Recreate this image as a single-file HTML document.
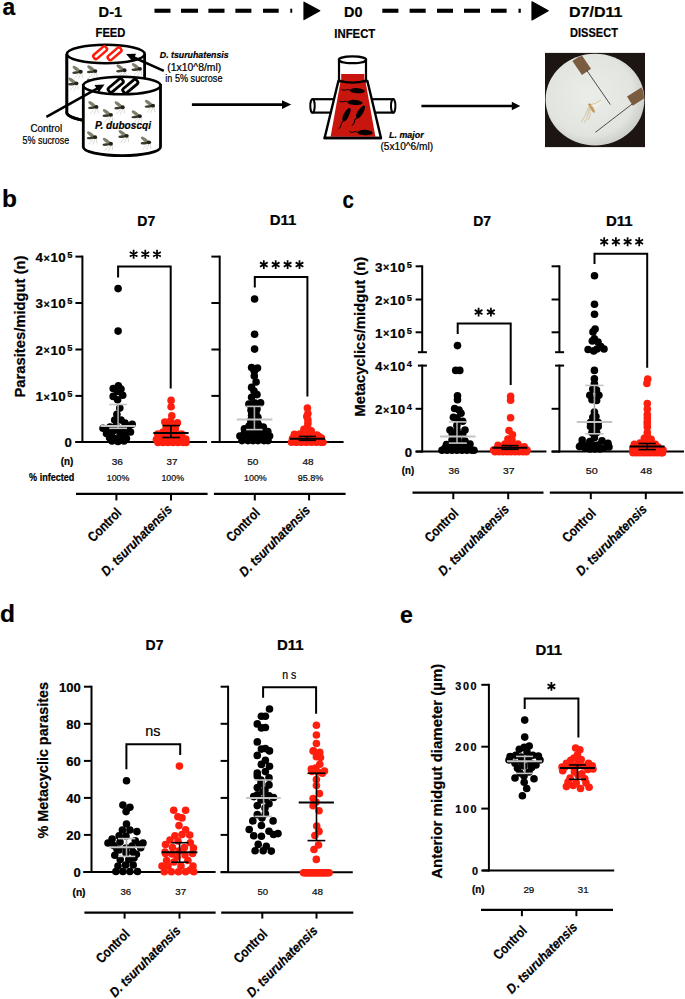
<!DOCTYPE html>
<html><head><meta charset="utf-8"><title>Figure</title><style>html,body{margin:0;padding:0;background:#fff;width:685px;height:999px;overflow:hidden}svg{display:block}text{font-family:"Liberation Sans",sans-serif;stroke:#000;stroke-width:0.22px}</style></head><body>
<svg width="685" height="999" viewBox="0 0 685 999">
<rect width="685" height="999" fill="#fff"/>
<text x="2.4" y="14.6" font-size="24.5" font-weight="bold" textLength="12.7" lengthAdjust="spacingAndGlyphs">a</text>
<text x="98.6" y="17" font-size="15" font-weight="bold" textLength="23.6" lengthAdjust="spacingAndGlyphs">D-1</text>
<text x="95.6" y="36.7" font-size="12.3" font-weight="bold" textLength="29.8" lengthAdjust="spacingAndGlyphs">FEED</text>
<text x="344" y="16.7" font-size="14.6" font-weight="bold" textLength="18.4" lengthAdjust="spacingAndGlyphs">D0</text>
<text x="334.3" y="37.9" font-size="12.5" font-weight="bold" textLength="41" lengthAdjust="spacingAndGlyphs">INFECT</text>
<text x="569" y="17.3" font-size="15.4" font-weight="bold" textLength="53.4" lengthAdjust="spacingAndGlyphs">D7/D11</text>
<text x="570.1" y="37.3" font-size="12.5" font-weight="bold" textLength="47.8" lengthAdjust="spacingAndGlyphs">DISSECT</text>
<rect x="154.5" y="8.7" width="16" height="4.1" fill="#000" />
<rect x="181" y="8.7" width="17" height="4.1" fill="#000" />
<rect x="208.4" y="8.7" width="16.1" height="4.1" fill="#000" />
<rect x="235.4" y="8.7" width="16" height="4.1" fill="#000" />
<rect x="263" y="8.7" width="15.7" height="4.1" fill="#000" />
<rect x="290.3" y="8.7" width="1.9" height="4.1" fill="#000" />
<path d="M304 2.2 L319.8 10.8 L304 19.6 Z" fill="#000" stroke="#000" stroke-width="1.2" stroke-linejoin="round"/>
<rect x="382.3" y="8.7" width="16.1" height="4.1" fill="#000" />
<rect x="409.6" y="8.7" width="16.1" height="4.1" fill="#000" />
<rect x="437" y="8.7" width="16" height="4.1" fill="#000" />
<rect x="464" y="8.7" width="16" height="4.1" fill="#000" />
<rect x="491" y="8.7" width="15.6" height="4.1" fill="#000" />
<rect x="518.5" y="8.7" width="2.3" height="4.1" fill="#000" />
<path d="M532 1.8 L548.2 10.8 L532 19.9 Z" fill="#000" stroke="#000" stroke-width="1.2" stroke-linejoin="round"/>
<path d="M66.9 54 L66.9 111.5 A39 9.5 0 0 0 84 120.3" fill="#fff" stroke="#000" stroke-width="2.8"/>
<rect x="66.9" y="54" width="77.6" height="58" fill="#fff"/>
<path d="M66.9 54 L66.9 111.5 A39 9.5 0 0 0 84 120.3" fill="none" stroke="#000" stroke-width="2.8"/>
<line x1="144.6" y1="54" x2="144.6" y2="80" stroke="#000" stroke-width="2.8"/>
<g transform="translate(77.7 71.4) scale(1.12)"><path d="M1.5 1.5 L-3 6.5 M2.8 1.6 L0.5 7 M3.8 1.2 L4.3 6" stroke="#c4c4bc" stroke-width="0.55" fill="none"/><ellipse cx="-1.2" cy="-2.2" rx="3.9" ry="1.55" transform="rotate(36 -1.2 -2.2)" fill="#7f806c"/><ellipse cx="-1.4" cy="1.0" rx="3.4" ry="1.15" transform="rotate(-6 -1.4 1)" fill="#3f3a2c"/><ellipse cx="2.6" cy="0.3" rx="1.9" ry="1.7" fill="#22211c"/></g>
<g transform="translate(92.3 70.7) scale(1.12)"><path d="M1.5 1.5 L-3 6.5 M2.8 1.6 L0.5 7 M3.8 1.2 L4.3 6" stroke="#c4c4bc" stroke-width="0.55" fill="none"/><ellipse cx="-1.2" cy="-2.2" rx="3.9" ry="1.55" transform="rotate(36 -1.2 -2.2)" fill="#7f806c"/><ellipse cx="-1.4" cy="1.0" rx="3.4" ry="1.15" transform="rotate(-6 -1.4 1)" fill="#3f3a2c"/><ellipse cx="2.6" cy="0.3" rx="1.9" ry="1.7" fill="#22211c"/></g>
<g transform="translate(121.5 69.9) scale(1.12)"><path d="M1.5 1.5 L-3 6.5 M2.8 1.6 L0.5 7 M3.8 1.2 L4.3 6" stroke="#c4c4bc" stroke-width="0.55" fill="none"/><ellipse cx="-1.2" cy="-2.2" rx="3.9" ry="1.55" transform="rotate(36 -1.2 -2.2)" fill="#7f806c"/><ellipse cx="-1.4" cy="1.0" rx="3.4" ry="1.15" transform="rotate(-6 -1.4 1)" fill="#3f3a2c"/><ellipse cx="2.6" cy="0.3" rx="1.9" ry="1.7" fill="#22211c"/></g>
<g transform="translate(136.9 68.5) scale(1.12)"><path d="M1.5 1.5 L-3 6.5 M2.8 1.6 L0.5 7 M3.8 1.2 L4.3 6" stroke="#c4c4bc" stroke-width="0.55" fill="none"/><ellipse cx="-1.2" cy="-2.2" rx="3.9" ry="1.55" transform="rotate(36 -1.2 -2.2)" fill="#7f806c"/><ellipse cx="-1.4" cy="1.0" rx="3.4" ry="1.15" transform="rotate(-6 -1.4 1)" fill="#3f3a2c"/><ellipse cx="2.6" cy="0.3" rx="1.9" ry="1.7" fill="#22211c"/></g>
<g transform="translate(73.4 83) scale(1.12)"><path d="M1.5 1.5 L-3 6.5 M2.8 1.6 L0.5 7 M3.8 1.2 L4.3 6" stroke="#c4c4bc" stroke-width="0.55" fill="none"/><ellipse cx="-1.2" cy="-2.2" rx="3.9" ry="1.55" transform="rotate(36 -1.2 -2.2)" fill="#7f806c"/><ellipse cx="-1.4" cy="1.0" rx="3.4" ry="1.15" transform="rotate(-6 -1.4 1)" fill="#3f3a2c"/><ellipse cx="2.6" cy="0.3" rx="1.9" ry="1.7" fill="#22211c"/></g>
<g transform="translate(92 84) scale(1.12)"><path d="M1.5 1.5 L-3 6.5 M2.8 1.6 L0.5 7 M3.8 1.2 L4.3 6" stroke="#c4c4bc" stroke-width="0.55" fill="none"/><ellipse cx="-1.2" cy="-2.2" rx="3.9" ry="1.55" transform="rotate(36 -1.2 -2.2)" fill="#7f806c"/><ellipse cx="-1.4" cy="1.0" rx="3.4" ry="1.15" transform="rotate(-6 -1.4 1)" fill="#3f3a2c"/><ellipse cx="2.6" cy="0.3" rx="1.9" ry="1.7" fill="#22211c"/></g>
<ellipse cx="105.8" cy="54" rx="38.9" ry="9.2" fill="#fff" stroke="#000" stroke-width="2.6"/>
<rect x="92.1" y="50.2" width="16" height="5" rx="1.92" fill="#fff" stroke="#ff1a0a" stroke-width="2.5" transform="rotate(-41 100.1 52.7)"/>
<rect x="106.6" y="51.3" width="16" height="5" rx="1.92" fill="#fff" stroke="#ff1a0a" stroke-width="2.5" transform="rotate(-41 114.6 53.8)"/>
<path d="M83.3 85.5 L83.3 147 A38.6 8.6 0 0 0 160.5 147 L160.5 85.5 Z" fill="#fff" stroke="#000" stroke-width="2.8"/>
<g transform="translate(93.4 106.6) scale(1.12)"><path d="M1.5 1.5 L-3 6.5 M2.8 1.6 L0.5 7 M3.8 1.2 L4.3 6" stroke="#c4c4bc" stroke-width="0.55" fill="none"/><ellipse cx="-1.2" cy="-2.2" rx="3.9" ry="1.55" transform="rotate(36 -1.2 -2.2)" fill="#7f806c"/><ellipse cx="-1.4" cy="1.0" rx="3.4" ry="1.15" transform="rotate(-6 -1.4 1)" fill="#3f3a2c"/><ellipse cx="2.6" cy="0.3" rx="1.9" ry="1.7" fill="#22211c"/></g>
<g transform="translate(107.9 114.5) scale(1.12)"><path d="M1.5 1.5 L-3 6.5 M2.8 1.6 L0.5 7 M3.8 1.2 L4.3 6" stroke="#c4c4bc" stroke-width="0.55" fill="none"/><ellipse cx="-1.2" cy="-2.2" rx="3.9" ry="1.55" transform="rotate(36 -1.2 -2.2)" fill="#7f806c"/><ellipse cx="-1.4" cy="1.0" rx="3.4" ry="1.15" transform="rotate(-6 -1.4 1)" fill="#3f3a2c"/><ellipse cx="2.6" cy="0.3" rx="1.9" ry="1.7" fill="#22211c"/></g>
<g transform="translate(119.7 106.9) scale(1.12)"><path d="M1.5 1.5 L-3 6.5 M2.8 1.6 L0.5 7 M3.8 1.2 L4.3 6" stroke="#c4c4bc" stroke-width="0.55" fill="none"/><ellipse cx="-1.2" cy="-2.2" rx="3.9" ry="1.55" transform="rotate(36 -1.2 -2.2)" fill="#7f806c"/><ellipse cx="-1.4" cy="1.0" rx="3.4" ry="1.15" transform="rotate(-6 -1.4 1)" fill="#3f3a2c"/><ellipse cx="2.6" cy="0.3" rx="1.9" ry="1.7" fill="#22211c"/></g>
<g transform="translate(136.8 115.8) scale(1.12)"><path d="M1.5 1.5 L-3 6.5 M2.8 1.6 L0.5 7 M3.8 1.2 L4.3 6" stroke="#c4c4bc" stroke-width="0.55" fill="none"/><ellipse cx="-1.2" cy="-2.2" rx="3.9" ry="1.55" transform="rotate(36 -1.2 -2.2)" fill="#7f806c"/><ellipse cx="-1.4" cy="1.0" rx="3.4" ry="1.15" transform="rotate(-6 -1.4 1)" fill="#3f3a2c"/><ellipse cx="2.6" cy="0.3" rx="1.9" ry="1.7" fill="#22211c"/></g>
<g transform="translate(150 105.3) scale(1.12)"><path d="M1.5 1.5 L-3 6.5 M2.8 1.6 L0.5 7 M3.8 1.2 L4.3 6" stroke="#c4c4bc" stroke-width="0.55" fill="none"/><ellipse cx="-1.2" cy="-2.2" rx="3.9" ry="1.55" transform="rotate(36 -1.2 -2.2)" fill="#7f806c"/><ellipse cx="-1.4" cy="1.0" rx="3.4" ry="1.15" transform="rotate(-6 -1.4 1)" fill="#3f3a2c"/><ellipse cx="2.6" cy="0.3" rx="1.9" ry="1.7" fill="#22211c"/></g>
<g transform="translate(92.1 136.8) scale(1.12)"><path d="M1.5 1.5 L-3 6.5 M2.8 1.6 L0.5 7 M3.8 1.2 L4.3 6" stroke="#c4c4bc" stroke-width="0.55" fill="none"/><ellipse cx="-1.2" cy="-2.2" rx="3.9" ry="1.55" transform="rotate(36 -1.2 -2.2)" fill="#7f806c"/><ellipse cx="-1.4" cy="1.0" rx="3.4" ry="1.15" transform="rotate(-6 -1.4 1)" fill="#3f3a2c"/><ellipse cx="2.6" cy="0.3" rx="1.9" ry="1.7" fill="#22211c"/></g>
<g transform="translate(107.9 143.4) scale(1.12)"><path d="M1.5 1.5 L-3 6.5 M2.8 1.6 L0.5 7 M3.8 1.2 L4.3 6" stroke="#c4c4bc" stroke-width="0.55" fill="none"/><ellipse cx="-1.2" cy="-2.2" rx="3.9" ry="1.55" transform="rotate(36 -1.2 -2.2)" fill="#7f806c"/><ellipse cx="-1.4" cy="1.0" rx="3.4" ry="1.15" transform="rotate(-6 -1.4 1)" fill="#3f3a2c"/><ellipse cx="2.6" cy="0.3" rx="1.9" ry="1.7" fill="#22211c"/></g>
<g transform="translate(123.7 135.5) scale(1.12)"><path d="M1.5 1.5 L-3 6.5 M2.8 1.6 L0.5 7 M3.8 1.2 L4.3 6" stroke="#c4c4bc" stroke-width="0.55" fill="none"/><ellipse cx="-1.2" cy="-2.2" rx="3.9" ry="1.55" transform="rotate(36 -1.2 -2.2)" fill="#7f806c"/><ellipse cx="-1.4" cy="1.0" rx="3.4" ry="1.15" transform="rotate(-6 -1.4 1)" fill="#3f3a2c"/><ellipse cx="2.6" cy="0.3" rx="1.9" ry="1.7" fill="#22211c"/></g>
<g transform="translate(146 142) scale(1.12)"><path d="M1.5 1.5 L-3 6.5 M2.8 1.6 L0.5 7 M3.8 1.2 L4.3 6" stroke="#c4c4bc" stroke-width="0.55" fill="none"/><ellipse cx="-1.2" cy="-2.2" rx="3.9" ry="1.55" transform="rotate(36 -1.2 -2.2)" fill="#7f806c"/><ellipse cx="-1.4" cy="1.0" rx="3.4" ry="1.15" transform="rotate(-6 -1.4 1)" fill="#3f3a2c"/><ellipse cx="2.6" cy="0.3" rx="1.9" ry="1.7" fill="#22211c"/></g>
<ellipse cx="121.9" cy="85.5" rx="38.6" ry="8.7" fill="#fff" stroke="#000" stroke-width="2.6"/>
<rect x="106.95" y="82.8" width="17.5" height="5.4" rx="2.08" fill="#f4f4ee" stroke="#000" stroke-width="2.8" transform="rotate(-40 115.7 85.5)"/>
<rect x="121.55" y="83.6" width="17.5" height="5.4" rx="2.08" fill="#f4f4ee" stroke="#000" stroke-width="2.8" transform="rotate(-40 130.3 86.3)"/>
<text x="95" y="128.7" font-size="11.2" font-weight="bold" font-style="italic" textLength="56" lengthAdjust="spacingAndGlyphs">P. duboscqi</text>
<line x1="46.4" y1="116.9" x2="97.52" y2="88.31" stroke="#000" stroke-width="2.6" stroke-linecap="butt"/>
<path d="M104.5 84.4L98.72 92.5L94.57 85.08Z" fill="#000"/>
<line x1="163.8" y1="70.9" x2="133.39" y2="57.19" stroke="#000" stroke-width="2.6" stroke-linecap="butt"/>
<path d="M126.1 53.9L136.05 53.73L132.56 61.47Z" fill="#000"/>
<text x="30.4" y="131.8" font-size="10.2" textLength="31.8" lengthAdjust="spacingAndGlyphs" stroke="#000" stroke-width="0.3">Control</text>
<text x="22.6" y="144" font-size="10.2" textLength="46.6" lengthAdjust="spacingAndGlyphs" stroke="#000" stroke-width="0.3">5% sucrose</text>
<text x="159.8" y="58.1" font-size="9.2" font-weight="bold" font-style="italic" textLength="68.8" lengthAdjust="spacingAndGlyphs">D. tsuruhatensis</text>
<text x="167.3" y="70.6" font-size="10" textLength="53.9" lengthAdjust="spacingAndGlyphs" stroke="#000" stroke-width="0.3">(1x10^8/ml)</text>
<text x="165.3" y="82.2" font-size="10" textLength="57.2" lengthAdjust="spacingAndGlyphs" stroke="#000" stroke-width="0.3">in 5% sucrose</text>
<line x1="191.9" y1="104.6" x2="283" y2="104.6" stroke="#000" stroke-width="2.6" stroke-linecap="butt"/>
<path d="M291.2 104.6L282 109L282 100.2Z" fill="#000"/>
<line x1="421.4" y1="106" x2="512.8" y2="106" stroke="#000" stroke-width="2.6" stroke-linecap="butt"/>
<path d="M520.3 106L511.8 110.3L511.8 101.7Z" fill="#000"/>
<rect x="312.5" y="99.2" width="23.5" height="13.4" fill="#fff" stroke="#000" stroke-width="2.2"/>
<ellipse cx="312.5" cy="105.9" rx="2.2" ry="6.7" fill="#fff" stroke="#000" stroke-width="2"/>
<rect x="370" y="99.2" width="23.2" height="13.4" fill="#fff" stroke="#000" stroke-width="2.2"/>
<ellipse cx="393.2" cy="105.9" rx="2.2" ry="6.7" fill="#fff" stroke="#000" stroke-width="2"/>
<path d="M338.4 81 L367.4 81 L381 138 L324.6 138 Z" fill="#fff" stroke="#000" stroke-width="2.4" stroke-linejoin="round"/>
<path d="M340.4 82 L365.6 82 L375.4 136.8 L330.6 136.8 Z" fill="#c8160e"/>
<rect x="339" y="59.8" width="27" height="21.5" fill="#fff" stroke="#000" stroke-width="2.2"/>
<path d="M341.2 74 L364.4 74 L364.4 80.5 Q352.8 83.5 341.2 80.5 Z" fill="#c8160e"/>
<path d="M339 80.5 Q352.5 84.8 366 80.5" fill="none" stroke="#000" stroke-width="2.2"/>
<ellipse cx="352.5" cy="59.8" rx="13.6" ry="3.4" fill="#fff" stroke="#000" stroke-width="2.2"/>
<line x1="323.6" y1="138" x2="382" y2="138" stroke="#000" stroke-width="2.4" stroke-linecap="butt"/>
<g transform="translate(356.5 90.8) rotate(4)"><path d="M-6 0 Q-9 -1.5 -11 0 Q-13 1 -15 -0.5" stroke="#000" stroke-width="0.9" fill="none"/><path d="M-6.5 0.2 C-6 -3.2 2 -3.8 7.5 -1.4 C8.8 -0.5 8.4 1 6.6 1.5 C2 3 -6 3 -6.5 0.2Z" fill="#000"/></g>
<g transform="translate(354.2 102.5) rotate(4)"><path d="M-6 0 Q-9 -1.5 -11 0 Q-13 1 -15 -0.5" stroke="#000" stroke-width="0.9" fill="none"/><path d="M-6.5 0.2 C-6 -3.2 2 -3.8 7.5 -1.4 C8.8 -0.5 8.4 1 6.6 1.5 C2 3 -6 3 -6.5 0.2Z" fill="#000"/></g>
<g transform="translate(346.2 115.6) rotate(-62)"><path d="M-6 0 Q-9 -1.5 -11 0 Q-13 1 -15 -0.5" stroke="#000" stroke-width="0.9" fill="none"/><path d="M-6.5 0.2 C-6 -3.2 2 -3.8 7.5 -1.4 C8.8 -0.5 8.4 1 6.6 1.5 C2 3 -6 3 -6.5 0.2Z" fill="#000"/></g>
<g transform="translate(360.2 112.8) rotate(-58)"><path d="M-6 0 Q-9 -1.5 -11 0 Q-13 1 -15 -0.5" stroke="#000" stroke-width="0.9" fill="none"/><path d="M-6.5 0.2 C-6 -3.2 2 -3.8 7.5 -1.4 C8.8 -0.5 8.4 1 6.6 1.5 C2 3 -6 3 -6.5 0.2Z" fill="#000"/></g>
<g transform="translate(364.3 132.7) rotate(3)"><path d="M-6 0 Q-9 -1.5 -11 0 Q-13 1 -15 -0.5" stroke="#000" stroke-width="0.9" fill="none"/><path d="M-6.5 0.2 C-6 -3.2 2 -3.8 7.5 -1.4 C8.8 -0.5 8.4 1 6.6 1.5 C2 3 -6 3 -6.5 0.2Z" fill="#000"/></g>
<text x="389" y="138.1" font-size="9.8" font-weight="bold" font-style="italic" textLength="34.6" lengthAdjust="spacingAndGlyphs">L. major</text>
<text x="380.5" y="150.3" font-size="10.2" textLength="52.6" lengthAdjust="spacingAndGlyphs" stroke="#000" stroke-width="0.3">(5x10^6/ml)</text>
<defs><radialGradient id="pg" cx="0.45" cy="0.45" r="0.55"><stop offset="0" stop-color="#eaede8"/><stop offset="0.8" stop-color="#e2e5df"/><stop offset="1" stop-color="#cfd2cc"/></radialGradient><clipPath id="pc"><ellipse cx="595" cy="99.6" rx="49" ry="45.4"/></clipPath></defs>
<rect x="545" y="52.9" width="100" height="94.2" fill="#1c1512"/>
<ellipse cx="595" cy="99.6" rx="49.4" ry="45.8" fill="url(#pg)"/>
<g clip-path="url(#pc)"><rect x="573.2" y="59.3" width="17" height="11" fill="#7a5c40" transform="rotate(55.7 581.7 64.8)"/><rect x="628.5" y="91.2" width="17" height="10.7" fill="#7a5c40" transform="rotate(-32.6 637 96.5)"/></g>
<line x1="586.5" y1="70" x2="610.3" y2="104.5" stroke="#3a3a3a" stroke-width="0.9" stroke-linecap="butt"/>
<line x1="632.1" y1="104.1" x2="595.4" y2="132.3" stroke="#3a3a3a" stroke-width="0.9" stroke-linecap="butt"/>
<ellipse cx="596" cy="104" rx="6" ry="2.6" fill="#f2f0e4" transform="rotate(-28 596 104)" opacity="0.9"/>
<g stroke="#cfb688" stroke-width="0.7" fill="none"><path d="M589 106 L584.5 117 L581 122"/><path d="M589.5 106.5 L587 118 L584 123"/><path d="M590 107 L590 116 L588 120"/><path d="M590 105 L596 103 L601 100"/></g>
<ellipse cx="592.3" cy="109" rx="1.5" ry="4.2" fill="#c29a62" transform="rotate(-30 592.3 109)"/>
<circle cx="589.6" cy="104.8" r="1.3" fill="#b88e58"/>
<text x="1.9" y="207.2" font-size="24.5" font-weight="bold">b</text>
<text x="24.6" y="326.5" font-size="15.2" font-weight="bold" text-anchor="middle" textLength="142" lengthAdjust="spacingAndGlyphs" transform="rotate(-90 24.6 326.5)">Parasites/midgut (n)</text>
<text x="137.3" y="225.8" font-size="14.2" font-weight="bold" textLength="17.9" lengthAdjust="spacingAndGlyphs">D7</text>
<text x="269.7" y="225.4" font-size="14.2" font-weight="bold" textLength="26.6" lengthAdjust="spacingAndGlyphs">D11</text>
<line x1="82.4" y1="255.61" x2="82.4" y2="443" stroke="#000" stroke-width="2" stroke-linecap="butt"/>
<line x1="75.4" y1="256.6" x2="82.4" y2="256.6" stroke="#000" stroke-width="2" stroke-linecap="butt"/>
<line x1="75.4" y1="303" x2="82.4" y2="303" stroke="#000" stroke-width="2" stroke-linecap="butt"/>
<line x1="75.4" y1="349.5" x2="82.4" y2="349.5" stroke="#000" stroke-width="2" stroke-linecap="butt"/>
<line x1="75.4" y1="395.9" x2="82.4" y2="395.9" stroke="#000" stroke-width="2" stroke-linecap="butt"/>
<line x1="75.4" y1="442" x2="82.4" y2="442" stroke="#000" stroke-width="2" stroke-linecap="butt"/>
<line x1="75.4" y1="442" x2="207" y2="442" stroke="#000" stroke-width="2" stroke-linecap="butt"/>
<g font-weight="bold" text-anchor="middle" font-size="13.4"><text x="39.3" y="261.8">4</text><text x="46.7" y="261.5" font-size="10.72">×</text><text x="54.2" y="261.8">1</text><text x="62.1" y="261.8">0</text><text x="69.8" y="257.7" font-size="9.25">5</text></g>
<g font-weight="bold" text-anchor="middle" font-size="13.4"><text x="39.3" y="308.2">3</text><text x="46.7" y="307.9" font-size="10.72">×</text><text x="54.2" y="308.2">1</text><text x="62.1" y="308.2">0</text><text x="69.8" y="304.1" font-size="9.25">5</text></g>
<g font-weight="bold" text-anchor="middle" font-size="13.4"><text x="39.3" y="354.7">2</text><text x="46.7" y="354.4" font-size="10.72">×</text><text x="54.2" y="354.7">1</text><text x="62.1" y="354.7">0</text><text x="69.8" y="350.6" font-size="9.25">5</text></g>
<g font-weight="bold" text-anchor="middle" font-size="13.4"><text x="39.3" y="401.1">1</text><text x="46.7" y="400.8" font-size="10.72">×</text><text x="54.2" y="401.1">1</text><text x="62.1" y="401.1">0</text><text x="69.8" y="397" font-size="9.25">5</text></g>
<text x="71.8" y="447.3" font-size="13.2" font-weight="bold" text-anchor="end">0</text>
<line x1="219.7" y1="255.61" x2="219.7" y2="443" stroke="#000" stroke-width="2" stroke-linecap="butt"/>
<line x1="211.4" y1="256.6" x2="219.7" y2="256.6" stroke="#000" stroke-width="2" stroke-linecap="butt"/>
<line x1="211.4" y1="303" x2="219.7" y2="303" stroke="#000" stroke-width="2" stroke-linecap="butt"/>
<line x1="211.4" y1="349.5" x2="219.7" y2="349.5" stroke="#000" stroke-width="2" stroke-linecap="butt"/>
<line x1="211.4" y1="395.9" x2="219.7" y2="395.9" stroke="#000" stroke-width="2" stroke-linecap="butt"/>
<line x1="211.4" y1="442" x2="219.7" y2="442" stroke="#000" stroke-width="2" stroke-linecap="butt"/>
<line x1="211.4" y1="442" x2="343.6" y2="442" stroke="#000" stroke-width="2" stroke-linecap="butt"/>
<g fill="#000"><circle cx="117.5" cy="391.5" r="3.8"/><circle cx="118.1" cy="331.1" r="3.8"/><circle cx="118.4" cy="385.8" r="3.8"/><circle cx="113.2" cy="388.5" r="3.8"/><circle cx="121" cy="389" r="3.8"/><circle cx="113.2" cy="396.4" r="3.8"/><circle cx="122.7" cy="395.3" r="3.8"/><circle cx="117.6" cy="399.7" r="3.8"/><circle cx="119.8" cy="408.1" r="3.8"/><circle cx="116.9" cy="414.3" r="3.8"/><circle cx="114.7" cy="420.1" r="3.8"/><circle cx="121" cy="420" r="3.8"/><circle cx="132.2" cy="424.2" r="3.8"/><circle cx="125" cy="423" r="3.8"/><circle cx="103" cy="428.2" r="3.8"/><circle cx="108" cy="430" r="3.8"/><circle cx="113" cy="431" r="3.8"/><circle cx="118" cy="430" r="3.8"/><circle cx="123" cy="430" r="3.8"/><circle cx="128" cy="429" r="3.8"/><circle cx="106.5" cy="433.5" r="3.8"/><circle cx="111" cy="434" r="3.8"/><circle cx="125" cy="434" r="3.8"/><circle cx="130.5" cy="432" r="3.8"/><circle cx="109.6" cy="437.7" r="3.8"/><circle cx="114" cy="438.4" r="3.8"/><circle cx="120.5" cy="438.4" r="3.8"/><circle cx="126.4" cy="438.4" r="3.8"/><circle cx="112" cy="441" r="3.8"/><circle cx="118" cy="441.5" r="3.8"/><circle cx="124" cy="441" r="3.8"/><circle cx="116" cy="426" r="3.8"/><circle cx="120" cy="435" r="3.8"/><circle cx="110" cy="427" r="3.8"/><circle cx="127" cy="426" r="3.8"/><circle cx="118.1" cy="288.6" r="3.8"/></g>
<g fill="#ff1f0f"><circle cx="171.1" cy="400.4" r="3.8"/><circle cx="171.1" cy="406.7" r="3.8"/><circle cx="171.8" cy="415.8" r="3.8"/><circle cx="164.8" cy="422.1" r="3.8"/><circle cx="177.4" cy="422.8" r="3.8"/><circle cx="170.5" cy="421" r="3.8"/><circle cx="166.2" cy="427.7" r="3.8"/><circle cx="175.3" cy="428.4" r="3.8"/><circle cx="170.8" cy="426" r="3.8"/><circle cx="157.8" cy="434" r="3.8"/><circle cx="181.6" cy="434" r="3.8"/><circle cx="163" cy="432" r="3.8"/><circle cx="169" cy="432" r="3.8"/><circle cx="175" cy="432" r="3.8"/><circle cx="156.4" cy="439.6" r="3.8"/><circle cx="185.8" cy="439" r="3.8"/><circle cx="162" cy="437" r="3.8"/><circle cx="168" cy="437" r="3.8"/><circle cx="174" cy="437" r="3.8"/><circle cx="180" cy="437" r="3.8"/><circle cx="158" cy="442.5" r="3.8"/><circle cx="163" cy="442.5" r="3.8"/><circle cx="168" cy="442.5" r="3.8"/><circle cx="173" cy="442.5" r="3.8"/><circle cx="178" cy="442.5" r="3.8"/><circle cx="183" cy="442.5" r="3.8"/><circle cx="186" cy="442.5" r="3.8"/><circle cx="160" cy="441" r="3.8"/><circle cx="166" cy="441" r="3.8"/><circle cx="172" cy="441" r="3.8"/><circle cx="178" cy="441" r="3.8"/><circle cx="184" cy="441" r="3.8"/><circle cx="171" cy="430" r="3.8"/><circle cx="165" cy="435" r="3.8"/><circle cx="177" cy="435" r="3.8"/><circle cx="171" cy="439" r="3.8"/><circle cx="159" cy="436" r="3.8"/></g>
<line x1="118.1" y1="404.5" x2="118.1" y2="428.3" stroke="#a8a8a8" stroke-width="1.6" stroke-linecap="butt"/>
<line x1="109.2" y1="404.5" x2="127.1" y2="404.5" stroke="#c4c4c4" stroke-width="1.6" stroke-linecap="butt"/>
<line x1="109.2" y1="428.3" x2="127.1" y2="428.3" stroke="#c4c4c4" stroke-width="1.6" stroke-linecap="butt"/>
<line x1="100.5" y1="426" x2="135.6" y2="426" stroke="#c4c4c4" stroke-width="2" stroke-linecap="butt"/>
<line x1="170.9" y1="425.6" x2="170.9" y2="437.5" stroke="#000" stroke-width="1.6" stroke-linecap="butt"/>
<line x1="162.4" y1="425.6" x2="179.9" y2="425.6" stroke="#000" stroke-width="1.6" stroke-linecap="butt"/>
<line x1="162.4" y1="437.5" x2="179.9" y2="437.5" stroke="#000" stroke-width="1.6" stroke-linecap="butt"/>
<line x1="153.3" y1="433" x2="188.6" y2="433" stroke="#000" stroke-width="2" stroke-linecap="butt"/>
<path d="M118.1 277.4V266.6H170.7V388.4" fill="none" stroke="#000" stroke-width="2"/>
<path d="M133.6 258.75L133.6 249.85M129.75 256.53L137.45 252.08M137.45 256.53L129.75 252.08" stroke="#000" stroke-width="1.75" fill="none"/>
<path d="M145.3 258.75L145.3 249.85M141.45 256.53L149.15 252.08M149.15 256.53L141.45 252.08" stroke="#000" stroke-width="1.75" fill="none"/>
<path d="M157 258.75L157 249.85M153.15 256.53L160.85 252.08M160.85 256.53L153.15 252.08" stroke="#000" stroke-width="1.75" fill="none"/>
<g fill="#000"><circle cx="254.6" cy="299" r="3.8"/><circle cx="254.6" cy="334.3" r="3.8"/><circle cx="254.6" cy="349.1" r="3.8"/><circle cx="251.6" cy="367.6" r="3.8"/><circle cx="257.5" cy="368.1" r="3.8"/><circle cx="254.3" cy="371.2" r="3.8"/><circle cx="256.1" cy="382" r="3.8"/><circle cx="251.6" cy="387.4" r="3.8"/><circle cx="254" cy="391" r="3.8"/><circle cx="257" cy="394.6" r="3.8"/><circle cx="251.6" cy="397.3" r="3.8"/><circle cx="260.6" cy="402.7" r="3.8"/><circle cx="248.9" cy="404.1" r="3.8"/><circle cx="255" cy="403" r="3.8"/><circle cx="257" cy="409" r="3.8"/><circle cx="251" cy="410" r="3.8"/><circle cx="251.6" cy="415.4" r="3.8"/><circle cx="257.9" cy="417.2" r="3.8"/><circle cx="250.7" cy="423.5" r="3.8"/><circle cx="257.9" cy="423.5" r="3.8"/><circle cx="254.3" cy="420" r="3.8"/><circle cx="263.3" cy="427" r="3.8"/><circle cx="244.4" cy="428.9" r="3.8"/><circle cx="254" cy="427" r="3.8"/><circle cx="249" cy="426" r="3.8"/><circle cx="259" cy="426" r="3.8"/><circle cx="267.8" cy="431.6" r="3.8"/><circle cx="239.9" cy="436.1" r="3.8"/><circle cx="269.6" cy="436.1" r="3.8"/><circle cx="247" cy="431" r="3.8"/><circle cx="253" cy="431" r="3.8"/><circle cx="259" cy="431" r="3.8"/><circle cx="263" cy="433" r="3.8"/><circle cx="245" cy="437" r="3.8"/><circle cx="250" cy="437" r="3.8"/><circle cx="255" cy="437" r="3.8"/><circle cx="260" cy="437" r="3.8"/><circle cx="265" cy="437" r="3.8"/><circle cx="242" cy="440.6" r="3.8"/><circle cx="248" cy="440.6" r="3.8"/><circle cx="253" cy="440.6" r="3.8"/><circle cx="258" cy="440.6" r="3.8"/><circle cx="264" cy="440.6" r="3.8"/><circle cx="268" cy="440.6" r="3.8"/><circle cx="254.3" cy="376" r="3.8"/><circle cx="252" cy="413" r="3.8"/><circle cx="256" cy="413" r="3.8"/><circle cx="251" cy="420" r="3.8"/><circle cx="257" cy="429" r="3.8"/><circle cx="244" cy="434" r="3.8"/></g>
<g fill="#ff1f0f"><circle cx="307.4" cy="408" r="3.8"/><circle cx="307.9" cy="413.5" r="3.8"/><circle cx="306.8" cy="416.4" r="3.8"/><circle cx="307.9" cy="420" r="3.8"/><circle cx="307.9" cy="423.4" r="3.8"/><circle cx="303.9" cy="429.2" r="3.8"/><circle cx="311.2" cy="430.7" r="3.8"/><circle cx="307.5" cy="427" r="3.8"/><circle cx="294.4" cy="434.3" r="3.8"/><circle cx="317" cy="435" r="3.8"/><circle cx="300" cy="434" r="3.8"/><circle cx="306" cy="434" r="3.8"/><circle cx="312" cy="434" r="3.8"/><circle cx="321.4" cy="438" r="3.8"/><circle cx="292.5" cy="438.5" r="3.8"/><circle cx="298" cy="438" r="3.8"/><circle cx="304" cy="438" r="3.8"/><circle cx="310" cy="438" r="3.8"/><circle cx="316" cy="438" r="3.8"/><circle cx="291.5" cy="442.3" r="3.8"/><circle cx="296.5" cy="442.3" r="3.8"/><circle cx="301.5" cy="442.3" r="3.8"/><circle cx="306.5" cy="442.3" r="3.8"/><circle cx="311.5" cy="442.3" r="3.8"/><circle cx="316.5" cy="442.3" r="3.8"/><circle cx="321.5" cy="442.3" r="3.8"/><circle cx="323" cy="442.3" r="3.8"/><circle cx="294" cy="440" r="3.8"/><circle cx="299" cy="440" r="3.8"/><circle cx="304" cy="440" r="3.8"/><circle cx="309" cy="440" r="3.8"/><circle cx="314" cy="440" r="3.8"/><circle cx="319" cy="440" r="3.8"/><circle cx="296" cy="442" r="3.8"/><circle cx="301" cy="442" r="3.8"/><circle cx="306" cy="442" r="3.8"/><circle cx="311" cy="442" r="3.8"/><circle cx="316" cy="442" r="3.8"/><circle cx="321" cy="442" r="3.8"/><circle cx="302" cy="436" r="3.8"/><circle cx="308" cy="436" r="3.8"/><circle cx="314" cy="436" r="3.8"/><circle cx="297" cy="436" r="3.8"/><circle cx="319" cy="436.5" r="3.8"/><circle cx="305" cy="431" r="3.8"/><circle cx="309" cy="432" r="3.8"/><circle cx="300" cy="437" r="3.8"/><circle cx="313" cy="439" r="3.8"/></g>
<line x1="254.4" y1="406.4" x2="254.4" y2="429.6" stroke="#a8a8a8" stroke-width="1.6" stroke-linecap="butt"/>
<line x1="246.2" y1="406.4" x2="262.6" y2="406.4" stroke="#c4c4c4" stroke-width="1.6" stroke-linecap="butt"/>
<line x1="246.2" y1="429.6" x2="262.6" y2="429.6" stroke="#c4c4c4" stroke-width="1.6" stroke-linecap="butt"/>
<line x1="236.8" y1="419.6" x2="272.4" y2="419.6" stroke="#c4c4c4" stroke-width="2" stroke-linecap="butt"/>
<line x1="307.3" y1="436.4" x2="307.3" y2="440.3" stroke="#000" stroke-width="1.6" stroke-linecap="butt"/>
<line x1="298.8" y1="436.4" x2="316" y2="436.4" stroke="#000" stroke-width="1.6" stroke-linecap="butt"/>
<line x1="298.8" y1="440.3" x2="316" y2="440.3" stroke="#000" stroke-width="1.6" stroke-linecap="butt"/>
<line x1="290" y1="438.8" x2="325" y2="438.8" stroke="#000" stroke-width="2" stroke-linecap="butt"/>
<path d="M254.8 287.6V277H307.4V396.4" fill="none" stroke="#000" stroke-width="2"/>
<path d="M263.8 269.05L263.8 260.15M259.95 266.83L267.65 262.38M267.65 266.83L259.95 262.38" stroke="#000" stroke-width="1.75" fill="none"/>
<path d="M275.7 269.05L275.7 260.15M271.85 266.83L279.55 262.38M279.55 266.83L271.85 262.38" stroke="#000" stroke-width="1.75" fill="none"/>
<path d="M287.6 269.05L287.6 260.15M283.75 266.83L291.45 262.38M291.45 266.83L283.75 262.38" stroke="#000" stroke-width="1.75" fill="none"/>
<path d="M299.5 269.05L299.5 260.15M295.65 266.83L303.35 262.38M303.35 266.83L295.65 262.38" stroke="#000" stroke-width="1.75" fill="none"/>
<text x="60.7" y="465.2" font-size="10" font-weight="bold" textLength="12.6" lengthAdjust="spacingAndGlyphs">(n)</text>
<text x="29.1" y="481.2" font-size="10.3" font-weight="bold" textLength="45.2" lengthAdjust="spacingAndGlyphs">% infected</text>
<text x="111.7" y="464.9" font-size="9.8" fill="#111" textLength="11.2" lengthAdjust="spacingAndGlyphs">36</text>
<text x="166.6" y="464.9" font-size="9.8" fill="#111" textLength="10.9" lengthAdjust="spacingAndGlyphs">37</text>
<text x="247.2" y="464.9" font-size="9.8" fill="#111" textLength="11.2" lengthAdjust="spacingAndGlyphs">50</text>
<text x="302.4" y="464.9" font-size="9.8" fill="#111" textLength="11.2" lengthAdjust="spacingAndGlyphs">48</text>
<text x="106.8" y="481.2" font-size="9.8" fill="#111" textLength="22.6" lengthAdjust="spacingAndGlyphs">100%</text>
<text x="161.4" y="481.2" font-size="9.8" fill="#111" textLength="22.6" lengthAdjust="spacingAndGlyphs">100%</text>
<text x="244" y="481.2" font-size="9.8" fill="#111" textLength="22.8" lengthAdjust="spacingAndGlyphs">100%</text>
<text x="297.8" y="481.2" font-size="9.8" fill="#111" textLength="25.6" lengthAdjust="spacingAndGlyphs">95.8%</text>
<line x1="76" y1="493.8" x2="207.6" y2="493.8" stroke="#000" stroke-width="2.2" stroke-linecap="butt"/>
<line x1="213.9" y1="493.8" x2="345.6" y2="493.8" stroke="#000" stroke-width="2.2" stroke-linecap="butt"/>
<line x1="116.4" y1="493.8" x2="116.4" y2="500.4" stroke="#000" stroke-width="2" stroke-linecap="butt"/>
<line x1="171" y1="493.8" x2="171" y2="500.4" stroke="#000" stroke-width="2" stroke-linecap="butt"/>
<line x1="254.8" y1="493.8" x2="254.8" y2="500.4" stroke="#000" stroke-width="2" stroke-linecap="butt"/>
<line x1="309.1" y1="493.8" x2="309.1" y2="500.4" stroke="#000" stroke-width="2" stroke-linecap="butt"/>
<text x="122.4" y="513.72" font-size="13.8" font-weight="bold" text-anchor="end" textLength="41.2" lengthAdjust="spacingAndGlyphs" transform="rotate(-45 122.4 513.72)" stroke="#000" stroke-width="0.15">Control</text>
<text x="172.9" y="510.33" font-size="13.4" font-weight="bold" font-style="italic" text-anchor="end" textLength="94" lengthAdjust="spacingAndGlyphs" transform="rotate(-45 172.9 510.33)" stroke="#000" stroke-width="0.15">D. tsuruhatensis</text>
<text x="260.8" y="513.72" font-size="13.8" font-weight="bold" text-anchor="end" textLength="41.2" lengthAdjust="spacingAndGlyphs" transform="rotate(-45 260.8 513.72)" stroke="#000" stroke-width="0.15">Control</text>
<text x="311" y="510.93" font-size="13.4" font-weight="bold" font-style="italic" text-anchor="end" textLength="94" lengthAdjust="spacingAndGlyphs" transform="rotate(-45 311 510.93)" stroke="#000" stroke-width="0.15">D. tsuruhatensis</text>
<text x="342.6" y="207.6" font-size="24.5" font-weight="bold" textLength="11.4" lengthAdjust="spacingAndGlyphs">c</text>
<text x="364.6" y="336.7" font-size="15.2" font-weight="bold" text-anchor="middle" textLength="160" lengthAdjust="spacingAndGlyphs" transform="rotate(-90 364.6 336.7)">Metacyclics/midgut (n)</text>
<text x="473.2" y="226" font-size="14.2" font-weight="bold" textLength="17.9" lengthAdjust="spacingAndGlyphs">D7</text>
<text x="606" y="226.2" font-size="14.2" font-weight="bold" textLength="26.6" lengthAdjust="spacingAndGlyphs">D11</text>
<line x1="422.2" y1="265.3" x2="422.2" y2="352.2" stroke="#000" stroke-width="2" stroke-linecap="butt"/>
<line x1="422.2" y1="364.6" x2="422.2" y2="452.6" stroke="#000" stroke-width="2" stroke-linecap="butt"/>
<line x1="415.6" y1="266.3" x2="422.2" y2="266.3" stroke="#000" stroke-width="2" stroke-linecap="butt"/>
<line x1="415.6" y1="299.5" x2="422.2" y2="299.5" stroke="#000" stroke-width="2" stroke-linecap="butt"/>
<line x1="415.6" y1="332.3" x2="422.2" y2="332.3" stroke="#000" stroke-width="2" stroke-linecap="butt"/>
<line x1="415.6" y1="408.8" x2="422.2" y2="408.8" stroke="#000" stroke-width="2" stroke-linecap="butt"/>
<line x1="415.6" y1="451.6" x2="422.2" y2="451.6" stroke="#000" stroke-width="2" stroke-linecap="butt"/>
<line x1="417.9" y1="352.2" x2="426.9" y2="352.2" stroke="#000" stroke-width="2" stroke-linecap="butt"/>
<line x1="417.9" y1="365.6" x2="426.9" y2="365.6" stroke="#000" stroke-width="2" stroke-linecap="butt"/>
<line x1="415.6" y1="451.6" x2="546.4" y2="451.6" stroke="#000" stroke-width="2" stroke-linecap="butt"/>
<line x1="559.4" y1="265.3" x2="559.4" y2="352.2" stroke="#000" stroke-width="2" stroke-linecap="butt"/>
<line x1="559.4" y1="364.6" x2="559.4" y2="452.6" stroke="#000" stroke-width="2" stroke-linecap="butt"/>
<line x1="551.6" y1="266.3" x2="559.4" y2="266.3" stroke="#000" stroke-width="2" stroke-linecap="butt"/>
<line x1="551.6" y1="299.5" x2="559.4" y2="299.5" stroke="#000" stroke-width="2" stroke-linecap="butt"/>
<line x1="551.6" y1="332.3" x2="559.4" y2="332.3" stroke="#000" stroke-width="2" stroke-linecap="butt"/>
<line x1="551.6" y1="408.8" x2="559.4" y2="408.8" stroke="#000" stroke-width="2" stroke-linecap="butt"/>
<line x1="551.6" y1="451.6" x2="559.4" y2="451.6" stroke="#000" stroke-width="2" stroke-linecap="butt"/>
<line x1="555.1" y1="352.2" x2="564.1" y2="352.2" stroke="#000" stroke-width="2" stroke-linecap="butt"/>
<line x1="555.1" y1="365.6" x2="564.1" y2="365.6" stroke="#000" stroke-width="2" stroke-linecap="butt"/>
<line x1="551.6" y1="451.6" x2="684" y2="451.6" stroke="#000" stroke-width="2" stroke-linecap="butt"/>
<g font-weight="bold" text-anchor="middle" font-size="13.4"><text x="378.8" y="271.6">3</text><text x="386.2" y="271.3" font-size="10.72">×</text><text x="393.7" y="271.6">1</text><text x="401.6" y="271.6">0</text><text x="409.3" y="267.5" font-size="9.25">5</text></g>
<g font-weight="bold" text-anchor="middle" font-size="13.4"><text x="378.8" y="304.8">2</text><text x="386.2" y="304.5" font-size="10.72">×</text><text x="393.7" y="304.8">1</text><text x="401.6" y="304.8">0</text><text x="409.3" y="300.7" font-size="9.25">5</text></g>
<g font-weight="bold" text-anchor="middle" font-size="13.4"><text x="378.8" y="337.6">1</text><text x="386.2" y="337.3" font-size="10.72">×</text><text x="393.7" y="337.6">1</text><text x="401.6" y="337.6">0</text><text x="409.3" y="333.5" font-size="9.25">5</text></g>
<g font-weight="bold" text-anchor="middle" font-size="13.4"><text x="378.8" y="370.9">4</text><text x="386.2" y="370.6" font-size="10.72">×</text><text x="393.7" y="370.9">1</text><text x="401.6" y="370.9">0</text><text x="409.3" y="366.8" font-size="9.25">4</text></g>
<g font-weight="bold" text-anchor="middle" font-size="13.4"><text x="378.8" y="414.1">2</text><text x="386.2" y="413.8" font-size="10.72">×</text><text x="393.7" y="414.1">1</text><text x="401.6" y="414.1">0</text><text x="409.3" y="410" font-size="9.25">4</text></g>
<text x="412.2" y="457" font-size="13.2" font-weight="bold" text-anchor="end">0</text>
<g fill="#000"><circle cx="457.5" cy="345.6" r="3.8"/><circle cx="455.7" cy="370.4" r="3.8"/><circle cx="459.8" cy="370.4" r="3.8"/><circle cx="457.5" cy="395.7" r="3.8"/><circle cx="457.5" cy="399.8" r="3.8"/><circle cx="454.6" cy="408.5" r="3.8"/><circle cx="461" cy="413.2" r="3.8"/><circle cx="453.4" cy="417.2" r="3.8"/><circle cx="462.7" cy="421.3" r="3.8"/><circle cx="456.9" cy="425.4" r="3.8"/><circle cx="457" cy="418" r="3.8"/><circle cx="459" cy="410" r="3.8"/><circle cx="452.3" cy="434.1" r="3.8"/><circle cx="462.7" cy="434.1" r="3.8"/><circle cx="457" cy="430" r="3.8"/><circle cx="450" cy="430" r="3.8"/><circle cx="465" cy="430" r="3.8"/><circle cx="465" cy="441" r="3.8"/><circle cx="446.5" cy="444.5" r="3.8"/><circle cx="452" cy="440" r="3.8"/><circle cx="458" cy="440" r="3.8"/><circle cx="470" cy="444" r="3.8"/><circle cx="442" cy="450.3" r="3.8"/><circle cx="447" cy="450.3" r="3.8"/><circle cx="452" cy="450.3" r="3.8"/><circle cx="457" cy="450.3" r="3.8"/><circle cx="462" cy="450.3" r="3.8"/><circle cx="467" cy="450.3" r="3.8"/><circle cx="472" cy="450.3" r="3.8"/><circle cx="474" cy="450.3" r="3.8"/><circle cx="449" cy="446" r="3.8"/><circle cx="455" cy="446" r="3.8"/><circle cx="461" cy="446" r="3.8"/><circle cx="467" cy="446" r="3.8"/><circle cx="457" cy="436" r="3.8"/><circle cx="445" cy="448" r="3.8"/></g>
<g fill="#ff1f0f"><circle cx="510.6" cy="396.4" r="3.8"/><circle cx="510.6" cy="400.3" r="3.8"/><circle cx="510.6" cy="417.7" r="3.8"/><circle cx="509" cy="430.5" r="3.8"/><circle cx="512.5" cy="434.8" r="3.8"/><circle cx="507.9" cy="439" r="3.8"/><circle cx="512" cy="440" r="3.8"/><circle cx="517.9" cy="444" r="3.8"/><circle cx="498" cy="445.4" r="3.8"/><circle cx="524.2" cy="446.8" r="3.8"/><circle cx="505" cy="444" r="3.8"/><circle cx="511" cy="444" r="3.8"/><circle cx="495" cy="451.8" r="3.8"/><circle cx="499" cy="451.8" r="3.8"/><circle cx="503" cy="451.8" r="3.8"/><circle cx="507" cy="451.8" r="3.8"/><circle cx="511" cy="451.8" r="3.8"/><circle cx="515" cy="451.8" r="3.8"/><circle cx="519" cy="451.8" r="3.8"/><circle cx="523" cy="451.8" r="3.8"/><circle cx="526.4" cy="451.8" r="3.8"/><circle cx="497" cy="449" r="3.8"/><circle cx="502" cy="449" r="3.8"/><circle cx="507" cy="449" r="3.8"/><circle cx="512" cy="449" r="3.8"/><circle cx="517" cy="449" r="3.8"/><circle cx="522" cy="449" r="3.8"/><circle cx="501" cy="447" r="3.8"/><circle cx="506" cy="447" r="3.8"/><circle cx="514" cy="447" r="3.8"/><circle cx="519" cy="447" r="3.8"/><circle cx="509" cy="446" r="3.8"/><circle cx="503" cy="451" r="3.8"/><circle cx="513" cy="451" r="3.8"/><circle cx="518" cy="451" r="3.8"/><circle cx="493.5" cy="450" r="3.8"/><circle cx="527" cy="450" r="3.8"/></g>
<line x1="457" y1="421.9" x2="457" y2="443.1" stroke="#a8a8a8" stroke-width="1.6" stroke-linecap="butt"/>
<line x1="448.8" y1="421.9" x2="466.8" y2="421.9" stroke="#c4c4c4" stroke-width="1.6" stroke-linecap="butt"/>
<line x1="448.8" y1="443.1" x2="466.8" y2="443.1" stroke="#c4c4c4" stroke-width="1.6" stroke-linecap="butt"/>
<line x1="440" y1="436.6" x2="475.5" y2="436.6" stroke="#c4c4c4" stroke-width="2" stroke-linecap="butt"/>
<line x1="510.6" y1="445.6" x2="510.6" y2="449.3" stroke="#000" stroke-width="1.6" stroke-linecap="butt"/>
<line x1="501.5" y1="445.6" x2="518.6" y2="445.6" stroke="#000" stroke-width="1.6" stroke-linecap="butt"/>
<line x1="501.5" y1="449.3" x2="518.6" y2="449.3" stroke="#000" stroke-width="1.6" stroke-linecap="butt"/>
<line x1="492.3" y1="447.7" x2="527.4" y2="447.7" stroke="#000" stroke-width="2" stroke-linecap="butt"/>
<path d="M457.7 334.1V323.6H510.7V384.9" fill="none" stroke="#000" stroke-width="2"/>
<path d="M478.6 316.55L478.6 307.65M474.75 314.33L482.45 309.88M482.45 314.33L474.75 309.88" stroke="#000" stroke-width="1.75" fill="none"/>
<path d="M490.9 316.55L490.9 307.65M487.05 314.33L494.75 309.88M494.75 314.33L487.05 309.88" stroke="#000" stroke-width="1.75" fill="none"/>
<g fill="#000"><circle cx="594.5" cy="275.7" r="3.8"/><circle cx="594.5" cy="304.2" r="3.8"/><circle cx="594.5" cy="314.2" r="3.8"/><circle cx="595.1" cy="329.1" r="3.8"/><circle cx="593" cy="331.9" r="3.8"/><circle cx="594.4" cy="338.9" r="3.8"/><circle cx="592.3" cy="341" r="3.8"/><circle cx="598" cy="342" r="3.8"/><circle cx="588.1" cy="349.5" r="3.8"/><circle cx="593.7" cy="350.9" r="3.8"/><circle cx="600.8" cy="346.6" r="3.8"/><circle cx="597" cy="349" r="3.8"/><circle cx="604" cy="349" r="3.8"/><circle cx="594.4" cy="370.4" r="3.8"/><circle cx="594.4" cy="378.8" r="3.8"/><circle cx="594.4" cy="383.8" r="3.8"/><circle cx="592.8" cy="389.1" r="3.8"/><circle cx="596.5" cy="390" r="3.8"/><circle cx="589.8" cy="395.2" r="3.8"/><circle cx="598.9" cy="395.2" r="3.8"/><circle cx="592" cy="399.8" r="3.8"/><circle cx="596.6" cy="400.5" r="3.8"/><circle cx="592.8" cy="417.3" r="3.8"/><circle cx="595.9" cy="416.5" r="3.8"/><circle cx="590.5" cy="422.6" r="3.8"/><circle cx="598.2" cy="422.6" r="3.8"/><circle cx="590.5" cy="426.4" r="3.8"/><circle cx="598.2" cy="426.4" r="3.8"/><circle cx="592" cy="432.5" r="3.8"/><circle cx="596.6" cy="432.5" r="3.8"/><circle cx="594.4" cy="437.8" r="3.8"/><circle cx="582.2" cy="440.1" r="3.8"/><circle cx="581.5" cy="444.7" r="3.8"/><circle cx="589.8" cy="441.6" r="3.8"/><circle cx="602" cy="440.9" r="3.8"/><circle cx="608" cy="443.2" r="3.8"/><circle cx="607.6" cy="445" r="3.8"/><circle cx="585" cy="448" r="3.8"/><circle cx="590" cy="449" r="3.8"/><circle cx="595" cy="449" r="3.8"/><circle cx="600" cy="449" r="3.8"/><circle cx="604" cy="448" r="3.8"/><circle cx="583" cy="446" r="3.8"/><circle cx="593" cy="445" r="3.8"/><circle cx="598" cy="445" r="3.8"/><circle cx="588" cy="445" r="3.8"/><circle cx="609" cy="447" r="3.8"/><circle cx="579.5" cy="446.5" r="3.8"/><circle cx="594.4" cy="428" r="3.8"/><circle cx="594.4" cy="412" r="3.8"/></g>
<g fill="#ff1f0f"><circle cx="647.7" cy="379.1" r="3.8"/><circle cx="646.9" cy="383.4" r="3.8"/><circle cx="647.3" cy="403.5" r="3.8"/><circle cx="647.3" cy="409" r="3.8"/><circle cx="647.3" cy="414.5" r="3.8"/><circle cx="647.3" cy="421.6" r="3.8"/><circle cx="647.3" cy="427.1" r="3.8"/><circle cx="647.3" cy="432.6" r="3.8"/><circle cx="644.3" cy="438.4" r="3.8"/><circle cx="651.1" cy="439.3" r="3.8"/><circle cx="647.3" cy="436" r="3.8"/><circle cx="634.3" cy="444.3" r="3.8"/><circle cx="655.3" cy="444.3" r="3.8"/><circle cx="660.3" cy="449.4" r="3.8"/><circle cx="640" cy="443" r="3.8"/><circle cx="645" cy="443" r="3.8"/><circle cx="650" cy="443" r="3.8"/><circle cx="638" cy="447" r="3.8"/><circle cx="643" cy="447" r="3.8"/><circle cx="648" cy="447" r="3.8"/><circle cx="653" cy="447" r="3.8"/><circle cx="658" cy="447" r="3.8"/><circle cx="633" cy="448" r="3.8"/><circle cx="663" cy="450" r="3.8"/><circle cx="633" cy="452.7" r="3.8"/><circle cx="636.5" cy="452.7" r="3.8"/><circle cx="640" cy="452.7" r="3.8"/><circle cx="643.5" cy="452.7" r="3.8"/><circle cx="647" cy="452.7" r="3.8"/><circle cx="650.5" cy="452.7" r="3.8"/><circle cx="654" cy="452.7" r="3.8"/><circle cx="657.5" cy="452.7" r="3.8"/><circle cx="661" cy="452.7" r="3.8"/><circle cx="662.5" cy="452.7" r="3.8"/><circle cx="633" cy="450.5" r="3.8"/><circle cx="637" cy="450.5" r="3.8"/><circle cx="641" cy="450.5" r="3.8"/><circle cx="645" cy="450.5" r="3.8"/><circle cx="649" cy="450.5" r="3.8"/><circle cx="653" cy="450.5" r="3.8"/><circle cx="657" cy="450.5" r="3.8"/><circle cx="661" cy="450.5" r="3.8"/><circle cx="636" cy="452" r="3.8"/><circle cx="644" cy="452" r="3.8"/><circle cx="652" cy="452" r="3.8"/><circle cx="660" cy="452" r="3.8"/><circle cx="647.3" cy="418" r="3.8"/><circle cx="647.3" cy="424" r="3.8"/></g>
<line x1="594.4" y1="385.4" x2="594.4" y2="433.8" stroke="#a8a8a8" stroke-width="1.6" stroke-linecap="butt"/>
<line x1="585.3" y1="385.4" x2="603.6" y2="385.4" stroke="#c4c4c4" stroke-width="1.6" stroke-linecap="butt"/>
<line x1="585.3" y1="433.8" x2="603.6" y2="433.8" stroke="#c4c4c4" stroke-width="1.6" stroke-linecap="butt"/>
<line x1="576.8" y1="422" x2="612.3" y2="422" stroke="#c4c4c4" stroke-width="2" stroke-linecap="butt"/>
<line x1="647.3" y1="443.5" x2="647.3" y2="449.6" stroke="#000" stroke-width="1.6" stroke-linecap="butt"/>
<line x1="638.5" y1="443.5" x2="655.8" y2="443.5" stroke="#000" stroke-width="1.6" stroke-linecap="butt"/>
<line x1="638.5" y1="449.6" x2="655.8" y2="449.6" stroke="#000" stroke-width="1.6" stroke-linecap="butt"/>
<line x1="629.6" y1="446.5" x2="664.6" y2="446.5" stroke="#000" stroke-width="2" stroke-linecap="butt"/>
<path d="M594.5 264V253.7H647.2V367.7" fill="none" stroke="#000" stroke-width="2"/>
<path d="M604.2 246.15L604.2 237.25M600.35 243.92L608.05 239.47M608.05 243.92L600.35 239.47" stroke="#000" stroke-width="1.75" fill="none"/>
<path d="M615.9 246.15L615.9 237.25M612.05 243.92L619.75 239.47M619.75 243.92L612.05 239.47" stroke="#000" stroke-width="1.75" fill="none"/>
<path d="M627.6 246.15L627.6 237.25M623.75 243.92L631.45 239.47M631.45 243.92L623.75 239.47" stroke="#000" stroke-width="1.75" fill="none"/>
<path d="M639.2 246.15L639.2 237.25M635.35 243.92L643.05 239.47M643.05 243.92L635.35 239.47" stroke="#000" stroke-width="1.75" fill="none"/>
<text x="401.8" y="473.6" font-size="10" font-weight="bold" textLength="12.3" lengthAdjust="spacingAndGlyphs">(n)</text>
<text x="448.6" y="474.4" font-size="9.8" fill="#111" textLength="11" lengthAdjust="spacingAndGlyphs">36</text>
<text x="502.9" y="474.4" font-size="9.8" fill="#111" textLength="11.5" lengthAdjust="spacingAndGlyphs">37</text>
<text x="585.8" y="474.4" font-size="9.8" fill="#111" textLength="12" lengthAdjust="spacingAndGlyphs">50</text>
<text x="640.3" y="474.4" font-size="9.8" fill="#111" textLength="11.8" lengthAdjust="spacingAndGlyphs">48</text>
<line x1="412.5" y1="492.6" x2="543.5" y2="492.6" stroke="#000" stroke-width="2.2" stroke-linecap="butt"/>
<line x1="549.8" y1="492.6" x2="683.2" y2="492.6" stroke="#000" stroke-width="2.2" stroke-linecap="butt"/>
<line x1="453.3" y1="492.6" x2="453.3" y2="499.2" stroke="#000" stroke-width="2" stroke-linecap="butt"/>
<line x1="508.2" y1="492.6" x2="508.2" y2="499.2" stroke="#000" stroke-width="2" stroke-linecap="butt"/>
<line x1="590.8" y1="492.6" x2="590.8" y2="499.2" stroke="#000" stroke-width="2" stroke-linecap="butt"/>
<line x1="645.8" y1="492.6" x2="645.8" y2="499.2" stroke="#000" stroke-width="2" stroke-linecap="butt"/>
<text x="459.3" y="514.12" font-size="13.8" font-weight="bold" text-anchor="end" textLength="41.2" lengthAdjust="spacingAndGlyphs" transform="rotate(-45 459.3 514.12)" stroke="#000" stroke-width="0.15">Control</text>
<text x="510.1" y="509.93" font-size="13.4" font-weight="bold" font-style="italic" text-anchor="end" textLength="94" lengthAdjust="spacingAndGlyphs" transform="rotate(-45 510.1 509.93)" stroke="#000" stroke-width="0.15">D. tsuruhatensis</text>
<text x="596.8" y="514.12" font-size="13.8" font-weight="bold" text-anchor="end" textLength="41.2" lengthAdjust="spacingAndGlyphs" transform="rotate(-45 596.8 514.12)" stroke="#000" stroke-width="0.15">Control</text>
<text x="647.7" y="509.93" font-size="13.4" font-weight="bold" font-style="italic" text-anchor="end" textLength="94" lengthAdjust="spacingAndGlyphs" transform="rotate(-45 647.7 509.93)" stroke="#000" stroke-width="0.15">D. tsuruhatensis</text>
<text x="0" y="622.2" font-size="24.5" font-weight="bold">d</text>
<text x="48" y="760.3" font-size="15.4" font-weight="bold" text-anchor="middle" textLength="156.4" lengthAdjust="spacingAndGlyphs" transform="rotate(-90 48 760.3)">% Metacyclic parasites</text>
<text x="145.6" y="649.9" font-size="14.2" font-weight="bold" textLength="17.9" lengthAdjust="spacingAndGlyphs">D7</text>
<text x="277" y="650.1" font-size="14.2" font-weight="bold" textLength="26.6" lengthAdjust="spacingAndGlyphs">D11</text>
<line x1="91.5" y1="685.71" x2="91.5" y2="873" stroke="#000" stroke-width="2" stroke-linecap="butt"/>
<line x1="83.9" y1="686.7" x2="91.5" y2="686.7" stroke="#000" stroke-width="2" stroke-linecap="butt"/>
<line x1="83.9" y1="723.8" x2="91.5" y2="723.8" stroke="#000" stroke-width="2" stroke-linecap="butt"/>
<line x1="83.9" y1="760.9" x2="91.5" y2="760.9" stroke="#000" stroke-width="2" stroke-linecap="butt"/>
<line x1="83.9" y1="797.9" x2="91.5" y2="797.9" stroke="#000" stroke-width="2" stroke-linecap="butt"/>
<line x1="83.9" y1="834.9" x2="91.5" y2="834.9" stroke="#000" stroke-width="2" stroke-linecap="butt"/>
<line x1="83.9" y1="872" x2="91.5" y2="872" stroke="#000" stroke-width="2" stroke-linecap="butt"/>
<line x1="83.2" y1="872" x2="215.6" y2="872" stroke="#000" stroke-width="2" stroke-linecap="butt"/>
<text x="80.8" y="691.8" font-size="13" font-weight="bold" text-anchor="end">100</text>
<text x="80.8" y="728.9" font-size="13" font-weight="bold" text-anchor="end">80</text>
<text x="80.8" y="766" font-size="13" font-weight="bold" text-anchor="end">60</text>
<text x="80.8" y="803" font-size="13" font-weight="bold" text-anchor="end">40</text>
<text x="80.8" y="840" font-size="13" font-weight="bold" text-anchor="end">20</text>
<text x="80.8" y="877.1" font-size="13" font-weight="bold" text-anchor="end">0</text>
<line x1="228.1" y1="685.71" x2="228.1" y2="873" stroke="#000" stroke-width="2" stroke-linecap="butt"/>
<line x1="220.6" y1="686.7" x2="228.1" y2="686.7" stroke="#000" stroke-width="2" stroke-linecap="butt"/>
<line x1="220.6" y1="723.8" x2="228.1" y2="723.8" stroke="#000" stroke-width="2" stroke-linecap="butt"/>
<line x1="220.6" y1="760.9" x2="228.1" y2="760.9" stroke="#000" stroke-width="2" stroke-linecap="butt"/>
<line x1="220.6" y1="797.9" x2="228.1" y2="797.9" stroke="#000" stroke-width="2" stroke-linecap="butt"/>
<line x1="220.6" y1="834.9" x2="228.1" y2="834.9" stroke="#000" stroke-width="2" stroke-linecap="butt"/>
<line x1="220.6" y1="872" x2="228.1" y2="872" stroke="#000" stroke-width="2" stroke-linecap="butt"/>
<line x1="220.7" y1="872.2" x2="352.8" y2="872.2" stroke="#000" stroke-width="2" stroke-linecap="butt"/>
<g fill="#000"><circle cx="126.5" cy="780.8" r="3.8"/><circle cx="122.9" cy="805.1" r="3.8"/><circle cx="129.9" cy="807.3" r="3.8"/><circle cx="126.1" cy="811.6" r="3.8"/><circle cx="126.5" cy="824" r="3.8"/><circle cx="122.4" cy="830" r="3.8"/><circle cx="129.9" cy="830" r="3.8"/><circle cx="136.9" cy="831.6" r="3.8"/><circle cx="119.1" cy="835.9" r="3.8"/><circle cx="112.1" cy="839.1" r="3.8"/><circle cx="126" cy="836" r="3.8"/><circle cx="135.3" cy="840.7" r="3.8"/><circle cx="139.6" cy="844.5" r="3.8"/><circle cx="113.7" cy="845.6" r="3.8"/><circle cx="140.7" cy="847.8" r="3.8"/><circle cx="120" cy="842" r="3.8"/><circle cx="132" cy="846" r="3.8"/><circle cx="126" cy="848" r="3.8"/><circle cx="119" cy="850" r="3.8"/><circle cx="133" cy="852" r="3.8"/><circle cx="114.8" cy="855.3" r="3.8"/><circle cx="136.4" cy="854.2" r="3.8"/><circle cx="120.2" cy="859.6" r="3.8"/><circle cx="128.8" cy="859.6" r="3.8"/><circle cx="125.6" cy="865" r="3.8"/><circle cx="133.2" cy="865" r="3.8"/><circle cx="118" cy="866" r="3.8"/><circle cx="115.9" cy="871.5" r="3.8"/><circle cx="122.9" cy="871.5" r="3.8"/><circle cx="129.9" cy="871.5" r="3.8"/><circle cx="137.5" cy="871.5" r="3.8"/><circle cx="126" cy="853" r="3.8"/><circle cx="108" cy="843" r="3.8"/><circle cx="143" cy="843" r="3.8"/><circle cx="117" cy="849" r="3.8"/><circle cx="134" cy="858" r="3.8"/></g>
<g fill="#ff1f0f"><circle cx="179.4" cy="766.1" r="3.8"/><circle cx="173.7" cy="810.2" r="3.8"/><circle cx="185.6" cy="810.2" r="3.8"/><circle cx="177.9" cy="816.7" r="3.8"/><circle cx="182" cy="817.9" r="3.8"/><circle cx="179" cy="825.6" r="3.8"/><circle cx="185.6" cy="829.7" r="3.8"/><circle cx="174.9" cy="835.7" r="3.8"/><circle cx="182" cy="834.5" r="3.8"/><circle cx="189.7" cy="835.1" r="3.8"/><circle cx="190.3" cy="842.7" r="3.8"/><circle cx="165.5" cy="844.5" r="3.8"/><circle cx="172.5" cy="847.5" r="3.8"/><circle cx="184.4" cy="847.5" r="3.8"/><circle cx="165.5" cy="853.4" r="3.8"/><circle cx="192.6" cy="853.4" r="3.8"/><circle cx="172" cy="854" r="3.8"/><circle cx="185" cy="855" r="3.8"/><circle cx="166.6" cy="860.5" r="3.8"/><circle cx="187.9" cy="860.5" r="3.8"/><circle cx="174" cy="862" r="3.8"/><circle cx="181" cy="866" r="3.8"/><circle cx="168" cy="866" r="3.8"/><circle cx="193" cy="866" r="3.8"/><circle cx="164.3" cy="871.7" r="3.8"/><circle cx="171.4" cy="871.7" r="3.8"/><circle cx="178.5" cy="871.7" r="3.8"/><circle cx="185.6" cy="871.7" r="3.8"/><circle cx="193.8" cy="871.7" r="3.8"/><circle cx="178" cy="841" r="3.8"/><circle cx="170" cy="840" r="3.8"/><circle cx="193.5" cy="848" r="3.8"/><circle cx="165" cy="852" r="3.8"/><circle cx="177" cy="857" r="3.8"/><circle cx="190" cy="870" r="3.8"/><circle cx="162" cy="866" r="3.8"/><circle cx="179" cy="851" r="3.8"/></g>
<line x1="126.5" y1="838.6" x2="126.5" y2="856.4" stroke="#a8a8a8" stroke-width="1.6" stroke-linecap="butt"/>
<line x1="118" y1="838.6" x2="135.3" y2="838.6" stroke="#c4c4c4" stroke-width="1.6" stroke-linecap="butt"/>
<line x1="118" y1="856.4" x2="135.3" y2="856.4" stroke="#c4c4c4" stroke-width="1.6" stroke-linecap="butt"/>
<line x1="109.4" y1="847.2" x2="144.5" y2="847.2" stroke="#c4c4c4" stroke-width="2" stroke-linecap="butt"/>
<line x1="179.6" y1="842.7" x2="179.6" y2="862.2" stroke="#000" stroke-width="1.6" stroke-linecap="butt"/>
<line x1="171.4" y1="842.7" x2="188.5" y2="842.7" stroke="#000" stroke-width="1.6" stroke-linecap="butt"/>
<line x1="171.4" y1="862.2" x2="188.5" y2="862.2" stroke="#000" stroke-width="1.6" stroke-linecap="butt"/>
<line x1="161.9" y1="852.2" x2="197.4" y2="852.2" stroke="#000" stroke-width="2" stroke-linecap="butt"/>
<path d="M126.4 769.3V744.2H180.2V754.9" fill="none" stroke="#000" stroke-width="2"/>
<text x="145.2" y="735.8" font-size="15.5" textLength="15.2" lengthAdjust="spacingAndGlyphs">ns</text>
<g fill="#000"><circle cx="269.5" cy="709" r="3.8"/><circle cx="261.4" cy="716.2" r="3.8"/><circle cx="265.4" cy="716.2" r="3.8"/><circle cx="257.3" cy="723.9" r="3.8"/><circle cx="261.4" cy="727.9" r="3.8"/><circle cx="265.4" cy="727.5" r="3.8"/><circle cx="257.3" cy="741.9" r="3.8"/><circle cx="261.4" cy="749.1" r="3.8"/><circle cx="265.4" cy="748.6" r="3.8"/><circle cx="269.5" cy="750.9" r="3.8"/><circle cx="257.3" cy="755.4" r="3.8"/><circle cx="265.4" cy="760.4" r="3.8"/><circle cx="261.4" cy="764.4" r="3.8"/><circle cx="269.5" cy="766.2" r="3.8"/><circle cx="265.4" cy="771.6" r="3.8"/><circle cx="257.3" cy="773" r="3.8"/><circle cx="257.3" cy="776" r="3.8"/><circle cx="269" cy="777.7" r="3.8"/><circle cx="260.9" cy="784" r="3.8"/><circle cx="269" cy="784.9" r="3.8"/><circle cx="257.3" cy="787.6" r="3.8"/><circle cx="253.7" cy="796.6" r="3.8"/><circle cx="257.3" cy="794.8" r="3.8"/><circle cx="269" cy="795.7" r="3.8"/><circle cx="273.5" cy="797.5" r="3.8"/><circle cx="257.3" cy="805.6" r="3.8"/><circle cx="269" cy="803.8" r="3.8"/><circle cx="257.3" cy="814.6" r="3.8"/><circle cx="265.4" cy="813.7" r="3.8"/><circle cx="252.8" cy="820.9" r="3.8"/><circle cx="273.1" cy="820.9" r="3.8"/><circle cx="261.4" cy="825.5" r="3.8"/><circle cx="249.2" cy="829.5" r="3.8"/><circle cx="253.7" cy="835.8" r="3.8"/><circle cx="261.4" cy="836.3" r="3.8"/><circle cx="269" cy="831.3" r="3.8"/><circle cx="273.5" cy="834.5" r="3.8"/><circle cx="278" cy="833.6" r="3.8"/><circle cx="258.2" cy="844.4" r="3.8"/><circle cx="266.3" cy="846.2" r="3.8"/><circle cx="255.1" cy="850.7" r="3.8"/><circle cx="263.2" cy="850.7" r="3.8"/><circle cx="271.3" cy="851.1" r="3.8"/><circle cx="265" cy="790" r="3.8"/><circle cx="261" cy="800" r="3.8"/><circle cx="265" cy="808" r="3.8"/><circle cx="263" cy="792" r="3.8"/><circle cx="261" cy="780" r="3.8"/><circle cx="265" cy="799" r="3.8"/><circle cx="262" cy="818" r="3.8"/></g>
<g fill="#ff1f0f"><circle cx="316.4" cy="725.2" r="3.8"/><circle cx="316.4" cy="735" r="3.8"/><circle cx="316.4" cy="743.5" r="3.8"/><circle cx="313.4" cy="750.7" r="3.8"/><circle cx="319.8" cy="752.4" r="3.8"/><circle cx="316.4" cy="756.7" r="3.8"/><circle cx="319.8" cy="764.3" r="3.8"/><circle cx="311.3" cy="769" r="3.8"/><circle cx="315.6" cy="768.1" r="3.8"/><circle cx="322.4" cy="773.2" r="3.8"/><circle cx="316.4" cy="779.6" r="3.8"/><circle cx="316.4" cy="785.6" r="3.8"/><circle cx="319.4" cy="793.6" r="3.8"/><circle cx="313.1" cy="798.6" r="3.8"/><circle cx="313.1" cy="805.8" r="3.8"/><circle cx="319" cy="810.7" r="3.8"/><circle cx="316.7" cy="826" r="3.8"/><circle cx="319" cy="831.4" r="3.8"/><circle cx="314.9" cy="835.5" r="3.8"/><circle cx="318.5" cy="845" r="3.8"/><circle cx="314" cy="849.5" r="3.8"/><circle cx="316.3" cy="859.4" r="3.8"/><circle cx="316" cy="802" r="3.8"/><circle cx="318" cy="772" r="3.8"/><circle cx="303.6" cy="872.7" r="3.8"/><circle cx="304.94" cy="872.7" r="3.8"/><circle cx="306.28" cy="872.7" r="3.8"/><circle cx="307.62" cy="872.7" r="3.8"/><circle cx="308.96" cy="872.7" r="3.8"/><circle cx="310.3" cy="872.7" r="3.8"/><circle cx="311.64" cy="872.7" r="3.8"/><circle cx="312.98" cy="872.7" r="3.8"/><circle cx="314.32" cy="872.7" r="3.8"/><circle cx="315.66" cy="872.7" r="3.8"/><circle cx="317" cy="872.7" r="3.8"/><circle cx="318.34" cy="872.7" r="3.8"/><circle cx="319.68" cy="872.7" r="3.8"/><circle cx="321.02" cy="872.7" r="3.8"/><circle cx="322.36" cy="872.7" r="3.8"/><circle cx="323.7" cy="872.7" r="3.8"/><circle cx="325.04" cy="872.7" r="3.8"/><circle cx="326.38" cy="872.7" r="3.8"/><circle cx="327.72" cy="872.7" r="3.8"/><circle cx="329.06" cy="872.7" r="3.8"/><circle cx="313.2" cy="751" r="3.8"/><circle cx="320.5" cy="757.5" r="3.8"/><circle cx="312" cy="771.5" r="3.8"/><circle cx="324.5" cy="771" r="3.8"/></g>
<line x1="263.6" y1="780" x2="263.6" y2="816.4" stroke="#a8a8a8" stroke-width="1.6" stroke-linecap="butt"/>
<line x1="254.6" y1="780" x2="271.8" y2="780" stroke="#c4c4c4" stroke-width="1.6" stroke-linecap="butt"/>
<line x1="254.6" y1="816.4" x2="271.8" y2="816.4" stroke="#c4c4c4" stroke-width="1.6" stroke-linecap="butt"/>
<line x1="246" y1="798" x2="280.8" y2="798" stroke="#c4c4c4" stroke-width="2" stroke-linecap="butt"/>
<line x1="316.5" y1="773.2" x2="316.5" y2="840.6" stroke="#000" stroke-width="1.6" stroke-linecap="butt"/>
<line x1="307.5" y1="773.2" x2="325.3" y2="773.2" stroke="#000" stroke-width="1.6" stroke-linecap="butt"/>
<line x1="307.5" y1="840.6" x2="325.3" y2="840.6" stroke="#000" stroke-width="1.6" stroke-linecap="butt"/>
<line x1="298.7" y1="802.6" x2="333.9" y2="802.6" stroke="#000" stroke-width="2" stroke-linecap="butt"/>
<path d="M263.1 697.8V687.2H316.1V713.7" fill="none" stroke="#000" stroke-width="2"/>
<text x="282.3" y="678.8" font-size="12.2" textLength="14" lengthAdjust="spacingAndGlyphs">n s</text>
<text x="72.5" y="895.8" font-size="10" font-weight="bold" textLength="13" lengthAdjust="spacingAndGlyphs">(n)</text>
<text x="120.5" y="895.2" font-size="9.8" fill="#111" textLength="10.7" lengthAdjust="spacingAndGlyphs">36</text>
<text x="175.3" y="895.2" font-size="9.8" fill="#111" textLength="10.8" lengthAdjust="spacingAndGlyphs">37</text>
<text x="257.4" y="895.2" font-size="9.8" fill="#111" textLength="10.6" lengthAdjust="spacingAndGlyphs">50</text>
<text x="312.1" y="895.2" font-size="9.8" fill="#111" textLength="11" lengthAdjust="spacingAndGlyphs">48</text>
<line x1="84.4" y1="912.6" x2="215.6" y2="912.6" stroke="#000" stroke-width="2.2" stroke-linecap="butt"/>
<line x1="221.2" y1="912.6" x2="353.3" y2="912.6" stroke="#000" stroke-width="2.2" stroke-linecap="butt"/>
<line x1="124.6" y1="912.6" x2="124.6" y2="918.6" stroke="#000" stroke-width="2" stroke-linecap="butt"/>
<line x1="179.5" y1="912.6" x2="179.5" y2="918.6" stroke="#000" stroke-width="2" stroke-linecap="butt"/>
<line x1="262.3" y1="912.6" x2="262.3" y2="918.6" stroke="#000" stroke-width="2" stroke-linecap="butt"/>
<line x1="316.5" y1="912.6" x2="316.5" y2="918.6" stroke="#000" stroke-width="2" stroke-linecap="butt"/>
<text x="130.6" y="934.92" font-size="13.8" font-weight="bold" text-anchor="end" textLength="41.2" lengthAdjust="spacingAndGlyphs" transform="rotate(-45 130.6 934.92)" stroke="#000" stroke-width="0.15">Control</text>
<text x="181.4" y="931.53" font-size="13.4" font-weight="bold" font-style="italic" text-anchor="end" textLength="94" lengthAdjust="spacingAndGlyphs" transform="rotate(-45 181.4 931.53)" stroke="#000" stroke-width="0.15">D. tsuruhatensis</text>
<text x="268.3" y="934.92" font-size="13.8" font-weight="bold" text-anchor="end" textLength="41.2" lengthAdjust="spacingAndGlyphs" transform="rotate(-45 268.3 934.92)" stroke="#000" stroke-width="0.15">Control</text>
<text x="318.4" y="931.53" font-size="13.4" font-weight="bold" font-style="italic" text-anchor="end" textLength="94" lengthAdjust="spacingAndGlyphs" transform="rotate(-45 318.4 931.53)" stroke="#000" stroke-width="0.15">D. tsuruhatensis</text>
<text x="400" y="622.5" font-size="24.5" font-weight="bold" textLength="12.9" lengthAdjust="spacingAndGlyphs">e</text>
<text x="441.8" y="771.3" font-size="15.4" font-weight="bold" text-anchor="middle" textLength="215" lengthAdjust="spacingAndGlyphs" transform="rotate(-90 441.8 771.3)">Anterior midgut diameter (µm)</text>
<text x="535.4" y="655.2" font-size="14.2" font-weight="bold" textLength="26.6" lengthAdjust="spacingAndGlyphs">D11</text>
<line x1="488.9" y1="683.81" x2="488.9" y2="871.5" stroke="#000" stroke-width="2" stroke-linecap="butt"/>
<line x1="481.3" y1="684.8" x2="488.9" y2="684.8" stroke="#000" stroke-width="2" stroke-linecap="butt"/>
<line x1="481.3" y1="746.7" x2="488.9" y2="746.7" stroke="#000" stroke-width="2" stroke-linecap="butt"/>
<line x1="481.3" y1="808.6" x2="488.9" y2="808.6" stroke="#000" stroke-width="2" stroke-linecap="butt"/>
<line x1="481.3" y1="870.5" x2="488.9" y2="870.5" stroke="#000" stroke-width="2" stroke-linecap="butt"/>
<line x1="482.2" y1="870.5" x2="614.2" y2="870.5" stroke="#000" stroke-width="2" stroke-linecap="butt"/>
<text x="478.2" y="689.5" font-size="10.8" font-weight="bold" text-anchor="end" letter-spacing="1.6">300</text>
<text x="478.2" y="751.4" font-size="10.8" font-weight="bold" text-anchor="end" letter-spacing="1.6">200</text>
<text x="478.2" y="813.3" font-size="10.8" font-weight="bold" text-anchor="end" letter-spacing="1.6">100</text>
<text x="478" y="875.2" font-size="10.8" font-weight="bold" text-anchor="end">0</text>
<g fill="#000"><circle cx="524.7" cy="720.1" r="3.8"/><circle cx="524.7" cy="737.1" r="3.8"/><circle cx="529.2" cy="746.1" r="3.8"/><circle cx="519.3" cy="749.2" r="3.8"/><circle cx="524.2" cy="747.4" r="3.8"/><circle cx="510.1" cy="756.6" r="3.8"/><circle cx="515.7" cy="755.3" r="3.8"/><circle cx="538.4" cy="756" r="3.8"/><circle cx="532.8" cy="755.3" r="3.8"/><circle cx="527" cy="752" r="3.8"/><circle cx="515" cy="763.3" r="3.8"/><circle cx="521.8" cy="762.1" r="3.8"/><circle cx="531" cy="763.3" r="3.8"/><circle cx="517.5" cy="768.2" r="3.8"/><circle cx="531.6" cy="767.6" r="3.8"/><circle cx="524" cy="766" r="3.8"/><circle cx="515" cy="778" r="3.8"/><circle cx="534" cy="778.7" r="3.8"/><circle cx="524.2" cy="782.3" r="3.8"/><circle cx="526.7" cy="788.5" r="3.8"/><circle cx="522.4" cy="795.8" r="3.8"/><circle cx="521" cy="757" r="3.8"/><circle cx="528" cy="759" r="3.8"/><circle cx="509" cy="760" r="3.8"/><circle cx="540" cy="760" r="3.8"/><circle cx="520" cy="773" r="3.8"/><circle cx="529" cy="772" r="3.8"/><circle cx="524" cy="776" r="3.8"/><circle cx="536" cy="765" r="3.8"/></g>
<g fill="#ff1f0f"><circle cx="575.6" cy="748" r="3.8"/><circle cx="579.9" cy="749.8" r="3.8"/><circle cx="577.5" cy="754.7" r="3.8"/><circle cx="581.2" cy="759.6" r="3.8"/><circle cx="570.7" cy="760.2" r="3.8"/><circle cx="566.4" cy="763.3" r="3.8"/><circle cx="588.5" cy="763.3" r="3.8"/><circle cx="592.2" cy="765.8" r="3.8"/><circle cx="562.7" cy="770.7" r="3.8"/><circle cx="587.9" cy="769.4" r="3.8"/><circle cx="574.4" cy="771.9" r="3.8"/><circle cx="581.8" cy="773.7" r="3.8"/><circle cx="570.1" cy="778" r="3.8"/><circle cx="584.8" cy="778.7" r="3.8"/><circle cx="566.4" cy="786.6" r="3.8"/><circle cx="573.2" cy="785.4" r="3.8"/><circle cx="580.5" cy="788.5" r="3.8"/><circle cx="589.1" cy="787.2" r="3.8"/><circle cx="576.2" cy="782.9" r="3.8"/><circle cx="577" cy="765" r="3.8"/><circle cx="583" cy="766" r="3.8"/><circle cx="572" cy="766" r="3.8"/><circle cx="565" cy="767" r="3.8"/><circle cx="590" cy="768" r="3.8"/><circle cx="578" cy="775" r="3.8"/><circle cx="568" cy="782" r="3.8"/><circle cx="586" cy="783" r="3.8"/><circle cx="579" cy="761" r="3.8"/><circle cx="574" cy="758" r="3.8"/><circle cx="562" cy="767" r="3.8"/><circle cx="593" cy="769" r="3.8"/></g>
<line x1="524.6" y1="756.4" x2="524.6" y2="773.4" stroke="#a8a8a8" stroke-width="1.6" stroke-linecap="butt"/>
<line x1="516" y1="756.4" x2="533.1" y2="756.4" stroke="#c4c4c4" stroke-width="1.6" stroke-linecap="butt"/>
<line x1="516" y1="773.4" x2="533.1" y2="773.4" stroke="#c4c4c4" stroke-width="1.6" stroke-linecap="butt"/>
<line x1="507" y1="761.2" x2="542" y2="761.2" stroke="#c4c4c4" stroke-width="2" stroke-linecap="butt"/>
<line x1="577.5" y1="765" x2="577.5" y2="779.3" stroke="#000" stroke-width="1.6" stroke-linecap="butt"/>
<line x1="568.9" y1="765" x2="586" y2="765" stroke="#000" stroke-width="1.6" stroke-linecap="butt"/>
<line x1="568.9" y1="779.3" x2="586" y2="779.3" stroke="#000" stroke-width="1.6" stroke-linecap="butt"/>
<line x1="560" y1="767.9" x2="595" y2="767.9" stroke="#000" stroke-width="2" stroke-linecap="butt"/>
<path d="M524.7 709V698.4H578.4V737.5" fill="none" stroke="#000" stroke-width="2"/>
<path d="M551.4 690.85L551.4 681.95M547.55 688.62L555.25 684.17M555.25 688.62L547.55 684.17" stroke="#000" stroke-width="1.75" fill="none"/>
<text x="471.9" y="893" font-size="10" font-weight="bold" textLength="12.6" lengthAdjust="spacingAndGlyphs">(n)</text>
<text x="523.4" y="892.8" font-size="9.8" fill="#111" textLength="10.9" lengthAdjust="spacingAndGlyphs">29</text>
<text x="577.8" y="892.8" font-size="9.8" fill="#111" textLength="10.7" lengthAdjust="spacingAndGlyphs">31</text>
<line x1="481" y1="909.8" x2="613" y2="909.8" stroke="#000" stroke-width="2.2" stroke-linecap="butt"/>
<line x1="521.9" y1="909.8" x2="521.9" y2="916.2" stroke="#000" stroke-width="2" stroke-linecap="butt"/>
<line x1="576.4" y1="909.8" x2="576.4" y2="916.2" stroke="#000" stroke-width="2" stroke-linecap="butt"/>
<text x="527.9" y="931.42" font-size="13.8" font-weight="bold" text-anchor="end" textLength="41.2" lengthAdjust="spacingAndGlyphs" transform="rotate(-45 527.9 931.42)" stroke="#000" stroke-width="0.15">Control</text>
<text x="578.3" y="927.93" font-size="13.4" font-weight="bold" font-style="italic" text-anchor="end" textLength="94" lengthAdjust="spacingAndGlyphs" transform="rotate(-45 578.3 927.93)" stroke="#000" stroke-width="0.15">D. tsuruhatensis</text>
</svg>
</body></html>
